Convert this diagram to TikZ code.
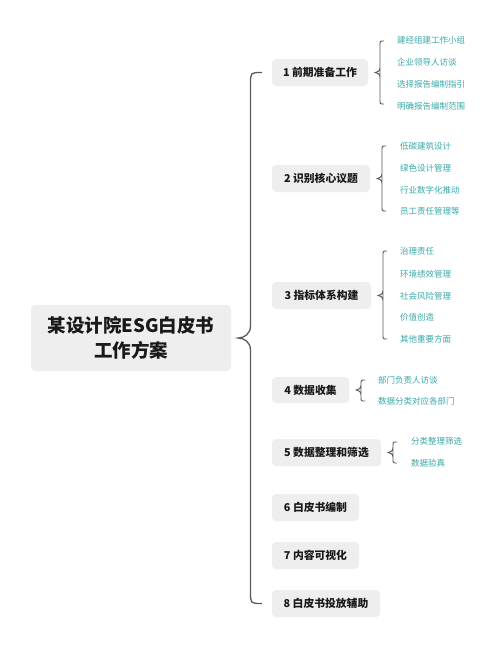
\documentclass[tikz,border=0pt]{standalone}
\usepackage{fontspec}
\setmainfont{Noto Sans CJK SC}
\usetikzlibrary{calc}
\definecolor{boxfill}{HTML}{EEEEEE}
\definecolor{leafcol}{HTML}{3AA8A8}
\definecolor{linecol}{HTML}{5A5A5A}
\tikzset{
  rootbox/.style={fill=boxfill, rounded corners=4pt, inner sep=0pt, align=center,
    font=\fontsize{18.5}{25}\selectfont\bfseries, text=black!90},
  topicbox/.style={fill=boxfill, rounded corners=4pt, inner sep=0pt, minimum height=27pt,
    font=\fontsize{10.8}{12}\selectfont\bfseries, text=black!90},
  leaf/.style={anchor=west, inner sep=0pt, text=leafcol, font=\fontsize{8.5}{10}\selectfont},
  mainbrace/.style={draw=linecol, line width=1.3pt},
  subbrace/.style={draw=linecol, line width=0.9pt},
}
\begin{document}
\begin{tikzpicture}[x=1pt,y=-1pt]
\useasboundingbox[fill=white] (0,0) rectangle (500,648);

% root
\node[rootbox, minimum width=200pt, minimum height=66pt] (root) at (131,338) {某设计院ESG白皮书\\工作方案};

% topics
\node[topicbox, minimum width=96pt]  (n1) at (320,72.5)  {1 前期准备工作};
\node[topicbox, minimum width=98pt]  (n2) at (321,178.5) {2 识别核心议题};
\node[topicbox, minimum width=99pt]  (n3) at (321.5,295.5) {3 指标体系构建};
\node[topicbox, minimum width=77pt, minimum height=26pt]  (n4) at (310.5,390) {4 数据收集};
\node[topicbox, minimum width=109pt] (n5) at (326.5,452.5) {5 数据整理和筛选};
\node[topicbox, minimum width=87pt]  (n6) at (315.5,507.5) {6 白皮书编制};
\node[topicbox, minimum width=87pt]  (n7) at (315.5,555.5) {7 内容可视化};
\node[topicbox, minimum width=108pt] (n8) at (326,603.5) {8 白皮书投放辅助};

% main brace
\coordinate (mtop) at ($(n1.west)+(-10,0)$);
\coordinate (mbot) at ($(n8.west)+(-10,0)$);
\coordinate (mcusp) at ($(root.east)+(7,0)$);
\draw[mainbrace] (mtop) .. controls (250.5,72.5) .. (250.5,84)
  -- (250.5,326) .. controls (250.5,334) and (244,338) .. (mcusp)
  .. controls (244,338) and (250.5,342) .. (250.5,350)
  -- (250.5,592) .. controls (250.5,603.5) .. (mbot);

% leaves
\node[leaf] (l11) at (397,40)  {建经组建工作小组};
\node[leaf] (l12) at (397,62)  {企业领导人访谈};
\node[leaf] (l13) at (397,84)  {选择报告编制指引};
\node[leaf] (l14) at (397,106) {明确报告编制范围};

\node[leaf] (l21) at (400,146) {低碳建筑设计};
\node[leaf] (l22) at (400,168) {绿色设计管理};
\node[leaf] (l23) at (400,190) {行业数字化推动};
\node[leaf] (l24) at (400,211) {员工责任管理等};

\node[leaf] (l31) at (400,251) {治理责任};
\node[leaf] (l32) at (400,274) {环境绩效管理};
\node[leaf] (l33) at (400,296) {社会风险管理};
\node[leaf] (l34) at (400,317) {价值创造};
\node[leaf] (l35) at (400,339) {其他重要方面};

\node[leaf] (l41) at (378,380) {部门负责人访谈};
\node[leaf] (l42) at (378,401) {数据分类对应各部门};

\node[leaf] (l51) at (411,441) {分类整理筛选};
\node[leaf] (l52) at (411,463) {数据验真};

% sub braces: #1 parent, #2 vertical x, #3 top y, #4 bottom y
\newcommand\subbr[4]{%
  \path ($(#1.east)+(7,0)$) coordinate (c#1);
  \path let \p1=(c#1) in
    [subbrace] (#2+4,#3) .. controls (#2,#3) .. (#2,#3+4)
    -- (#2,\y1-5) .. controls (#2,\y1-1.5) and (\x1+2,\y1) .. (c#1)
    .. controls (\x1+2,\y1) and (#2,\y1+1.5) .. (#2,\y1+5)
    -- (#2,#4-4) .. controls (#2,#4) .. (#2+4,#4);
}
\subbr{n1}{380}{41}{104}
\subbr{n2}{382}{146}{211}
\subbr{n3}{383}{251}{339}
\subbr{n4}{361}{380}{401}
\subbr{n5}{393}{442}{463}
\end{tikzpicture}
\end{document}
